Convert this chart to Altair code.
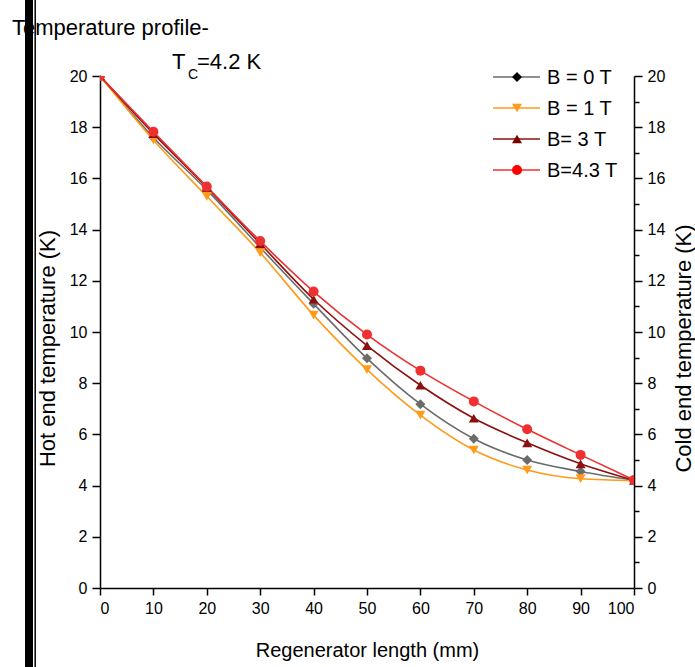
import altair as alt
import pandas as pd

# ---- data ----
lengths = [0, 10, 20, 30, 40, 50, 60, 70, 80, 90, 100]
b0 = [20, 17.6, 15.55, 13.3, 11.1, 8.97, 7.18, 5.83, 5.0, 4.55, 4.2]
b1 = [20, 17.5, 15.3, 13.1, 10.66, 8.53, 6.75, 5.39, 4.61, 4.27, 4.2]
b3 = [20, 17.75, 15.65, 13.45, 11.28, 9.47, 7.92, 6.63, 5.67, 4.85, 4.2]
b43 = [20, 17.82, 15.68, 13.55, 11.58, 9.9, 8.49, 7.29, 6.2, 5.2, 4.22]
series_names = ["B = 0 T", "B = 1 T", "B= 3 T", "B=4.3 T"]
series_vals = [b0, b1, b3, b43]
line_colors = ["#6b6b6b", "#ff9a1a", "#8b1010", "#ee3030"]
point_colors = ["#000000", "#ff9a1a", "#7a0000", "#ff0000"]
shapes = ["diamond", "triangle-down", "triangle-up", "circle"]

rows = []
for name, vals in zip(series_names, series_vals):
    for x, v in zip(lengths, vals):
        rows.append({"len": x, "temp": v, "series": name})
df = pd.DataFrame(rows)

FONT = "Liberation Sans"
W, H = 534, 512

xscale = alt.Scale(domain=[0, 100], nice=False, zero=False)
yscale = alt.Scale(domain=[0, 20], nice=False, zero=False)

common = dict(
    labelFont=FONT, titleFont=FONT, titleFontWeight="normal",
    domainColor="black", tickColor="black", labelColor="black", titleColor="black",
    domainWidth=1.5, tickWidth=1.5, grid=False,
)

xaxis = alt.Axis(
    values=list(range(0, 101, 5)),
    labelExpr="datum.value % 10 == 0 ? datum.label : ''",
    tickSize={"condition": {"test": "datum.value % 10 == 0", "value": 7}, "value": 4},
    labelFontSize=16, titleFontSize=20, labelPadding=5, titlePadding=24,
    title="Regenerator length (mm)", **common,
)
yaxis_left = alt.Axis(
    values=list(range(0, 21)),
    labelExpr="datum.value % 2 == 0 ? datum.label : ''",
    tickSize={"condition": {"test": "datum.value % 2 == 0", "value": 8}, "value": 5},
    labelFontSize=16, titleFontSize=22, labelPadding=5,
    titleX=-53, titleY=272, titleAngle=270, titleBaseline="middle", titleAlign="center",
    title="Hot end temperature (K)", **common,
)
yaxis_right = alt.Axis(
    orient="right",
    values=list(range(0, 21)),
    labelExpr="datum.value % 2 == 0 ? datum.label : ''",
    tickSize={"condition": {"test": "datum.value % 2 == 0", "value": 8}, "value": 5},
    labelFontSize=16, titleFontSize=22, labelPadding=5,
    titleX=49, titleY=272, titleAngle=270, titleBaseline="middle", titleAlign="center",
    title="Cold end temperature (K)", **common,
)

color_line = alt.Scale(domain=series_names, range=line_colors)
color_pt = alt.Scale(domain=series_names, range=point_colors)
shape_sc = alt.Scale(domain=series_names, range=shapes)

base = alt.Chart(df)
lines = base.mark_line(strokeWidth=1.6, interpolate="monotone").encode(
    x=alt.X("len:Q", scale=xscale, axis=xaxis),
    y=alt.Y("temp:Q", scale=yscale, axis=yaxis_left),
    color=alt.Color("series:N", scale=color_line, legend=None),
    detail="series:N",
)
points = base.mark_point(filled=True, opacity=1, size=100, clip=True).encode(
    x=alt.X("len:Q", scale=xscale),
    y=alt.Y("temp:Q", scale=yscale),
    color=alt.Color("series:N", scale=color_pt, legend=None),
    shape=alt.Shape("series:N", scale=shape_sc, legend=None),
)
right = base.mark_line(opacity=0).encode(
    x=alt.X("len:Q", scale=xscale),
    y=alt.Y("temp:Q", scale=yscale, axis=yaxis_right),
    detail="series:N",
)

# ---- manual legend ----
legend_layers = []
leg_df = pd.DataFrame({"label": series_names})
for i, name in enumerate(series_names):
    ly = 1 + i * 31
    d = leg_df[leg_df["label"] == name]
    lc = alt.Chart(d)
    legend_layers.append(
        lc.mark_rule(color=line_colors[i], strokeWidth=1.6).encode(
            x=alt.value(393), x2=alt.value(440), y=alt.value(ly)
        )
    )
    legend_layers.append(
        lc.mark_point(filled=True, opacity=1, size=100, shape=shapes[i], color=point_colors[i]).encode(
            x=alt.value(417), y=alt.value(ly)
        )
    )
    legend_layers.append(
        lc.mark_text(align="left", baseline="middle", font=FONT, fontSize=20, color="black").encode(
            x=alt.value(447), y=alt.value(ly + 1), text="label:N"
        )
    )

# ---- annotations ----
ann = pd.DataFrame({"t": ["Temperature profile-", "T", "C", "=4.2 K"]})
title_txt = alt.Chart(ann[ann.t == "Temperature profile-"]).mark_text(
    align="left", baseline="alphabetic", font=FONT, fontSize=22, color="black"
).encode(x=alt.value(-88), y=alt.value(-41), text="t:N")
tc_T = alt.Chart(ann[ann.t == "T"]).mark_text(
    align="left", baseline="alphabetic", font=FONT, fontSize=22, color="black"
).encode(x=alt.value(72), y=alt.value(-7), text="t:N")
tc_C = alt.Chart(ann[ann.t == "C"]).mark_text(
    align="left", baseline="alphabetic", font=FONT, fontSize=14, color="black"
).encode(x=alt.value(88), y=alt.value(3), text="t:N")
tc_rest = alt.Chart(ann[ann.t == "=4.2 K"]).mark_text(
    align="left", baseline="alphabetic", font=FONT, fontSize=22, color="black"
).encode(x=alt.value(97), y=alt.value(-7), text="t:N")

# ---- decorative black bars at the left edge ----
bar_df = pd.DataFrame({"k": [0]})
bar1 = alt.Chart(bar_df).mark_rule(color="black", strokeWidth=8).encode(
    x=alt.value(-71), y=alt.value(-76), y2=alt.value(591)
)
bar2 = alt.Chart(bar_df).mark_rule(color="black", strokeWidth=1.5).encode(
    x=alt.value(-64.8), y=alt.value(-76), y2=alt.value(591)
)

left = alt.layer(lines, points, *legend_layers, title_txt, tc_T, tc_C, tc_rest, bar1, bar2)
chart = (
    alt.layer(left, right)
    .resolve_scale(y="independent")
    .properties(
        width=W, height=H,
        autosize=alt.AutoSizeParams(type="none"),
        padding={"left": 100, "top": 76, "right": 61, "bottom": 79},
        background="white",
    )
    .configure_view(stroke=None)
)

chart.save("out.html", embed_options={"renderer": "svg", "actions": False})
